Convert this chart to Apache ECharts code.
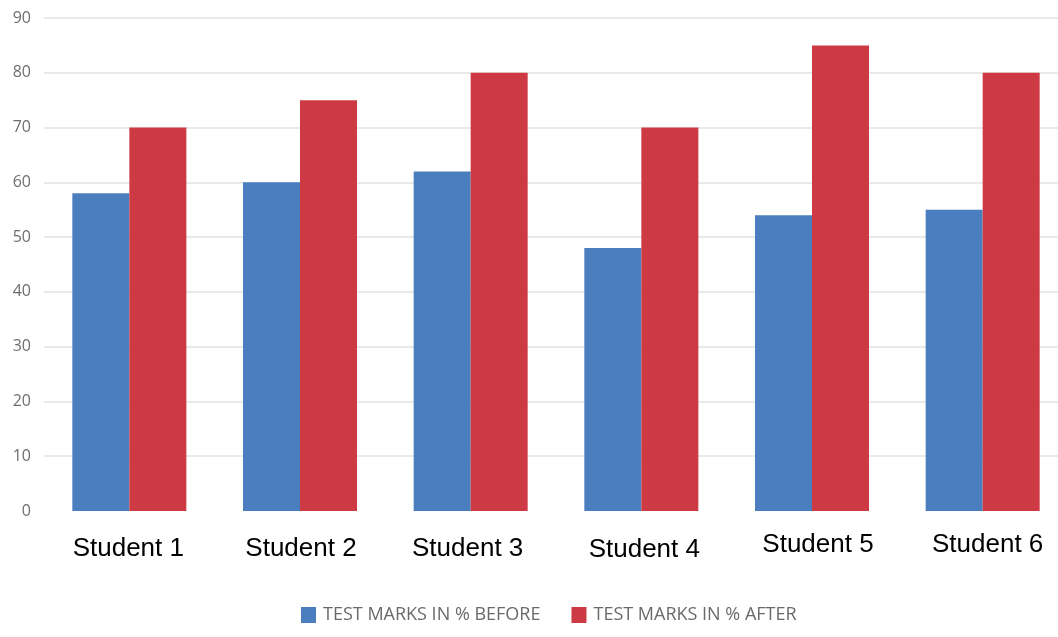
<!DOCTYPE html>
<html>
<head>
<meta charset="utf-8">
<script src="https://cdn.jsdelivr.net/npm/echarts@6/dist/echarts.min.js"></script>
<style>
  html, body { margin: 0; padding: 0; background: #fff; overflow: hidden; }
  /* the plot runs a little past the right edge of the page */
  #chart { width: 1068px; height: 637px; }
</style>
</head>
<body>
<div id="chart"></div>
<script>
// Test marks per student, before and after
const students = ['Student 1', 'Student 2', 'Student 3', 'Student 4', 'Student 5', 'Student 6'];
const marksBefore = [58, 60, 62, 48, 54, 55];
const marksAfter = [70, 75, 80, 70, 85, 80];
const seriesNames = ['TEST MARKS IN % BEFORE', 'TEST MARKS IN % AFTER'];

const chart = echarts.init(document.getElementById('chart'));

// no line at zero, light grey lines above it
const gridColors = ['rgba(0,0,0,0)'].concat(new Array(9).fill('#e2e2e2'));

// the category captions sit slightly off-centre, each nudged on its own
const labelNudge = [[4, -1], [4, 1], [4, -3], [5, 3], [0, 6], [0, 5]];
const labelRich = {};
labelNudge.forEach(([down, right], i) => {
  labelRich['s' + i] = {
    color: '#000',
    fontSize: 26,
    fontFamily: 'Liberation Sans, Arial, sans-serif',
    padding: [down, right < 0 ? -2 * right : 0, 0, right > 0 ? 2 * right : 0]
  };
});

chart.setOption({
  animation: false,
  color: ['#4a7ebf', '#cd3a44'],
  grid: { left: 44, top: 18, right: 0, bottom: 126, containLabel: false },
  legend: {
    bottom: 8,
    left: 296,
    itemWidth: 15,
    itemHeight: 16,
    itemGap: 31,
    icon: 'rect',
    textStyle: { color: '#6a6a6a', fontSize: 18, fontFamily: 'Open Sans, sans-serif', padding: [0, 0, 0, 2] },
    data: seriesNames
  },
  xAxis: {
    type: 'category',
    data: students,
    axisLine: { show: false },
    axisTick: { show: false },
    axisLabel: {
      margin: 21,
      formatter: (value, index) => '{s' + index + '|' + value + '}',
      rich: labelRich
    }
  },
  yAxis: {
    type: 'value',
    min: 0,
    max: 90,
    interval: 10,
    axisLine: { show: false },
    axisTick: { show: false },
    axisLabel: { color: '#6e6e6e', fontSize: 16, fontFamily: 'Open Sans, sans-serif', margin: 13 },
    splitLine: { lineStyle: { color: gridColors, width: 1.5 } }
  },
  series: [
    { name: seriesNames[0], type: 'bar', data: marksBefore, barWidth: 57, barGap: '0%' },
    { name: seriesNames[1], type: 'bar', data: marksAfter, barWidth: 57, barGap: '0%' }
  ]
});
</script>
</body>
</html>
